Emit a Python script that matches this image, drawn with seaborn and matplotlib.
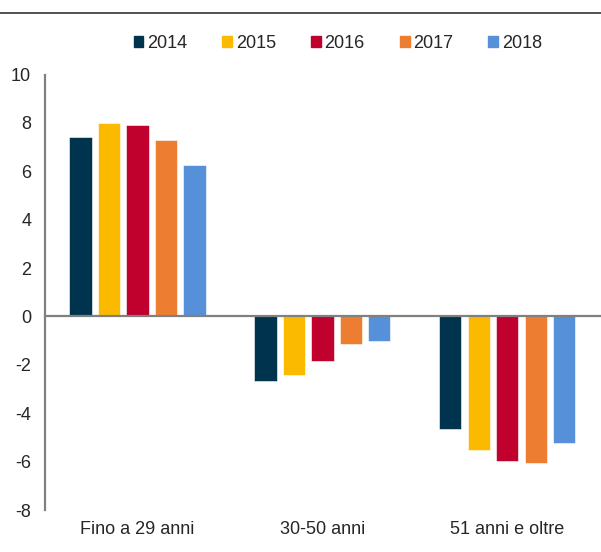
import pandas as pd
import seaborn as sns
import matplotlib.pyplot as plt
from matplotlib.lines import Line2D

# data
categories = ['Fino a 29 anni', '30-50 anni', '51 anni e oltre']
years = ['2014', '2015', '2016', '2017', '2018']
v2014 = [7.4, -2.65, -4.65]
v2015 = [8.0, -2.4, -5.5]
v2016 = [7.9, -1.85, -5.97]
v2017 = [7.28, -1.15, -6.05]
v2018 = [6.28, -1.0, -5.22]
colors = ['#00334E', '#FBBA00', '#C0002D', '#ED7D31', '#5590D8']

rows = []
for year, vals in zip(years, [v2014, v2015, v2016, v2017, v2018]):
    for cat, v in zip(categories, vals):
        rows.append({'Categoria': cat, 'Anno': year, 'Valore': v})
df = pd.DataFrame(rows)

sns.set_style('white')
plt.rcParams['font.family'] = ['Liberation Sans', 'DejaVu Sans']
plt.rcParams['axes.unicode_minus'] = False

fig = plt.figure(figsize=(6.01, 5.52), dpi=100)
ax = fig.add_axes([0.075, 0.076, 0.923, 0.789])

sns.barplot(data=df, x='Categoria', y='Valore', hue='Anno', order=categories,
            hue_order=years, palette=colors, saturation=1, width=0.77, gap=0.22,
            edgecolor='white', linewidth=0.4, ax=ax)

ax.set_xlim(-0.5, 2.5)
ax.set_ylim(-8, 10)
ax.set_yticks(range(-8, 11, 2))
ax.set_xlabel('')
ax.set_ylabel('')

gray = '#808080'
for s in ['top', 'right']:
    ax.spines[s].set_visible(False)
ax.spines['left'].set_color(gray)
ax.spines['left'].set_linewidth(1.6)
ax.spines['bottom'].set_position(('data', 0))
ax.spines['bottom'].set_color(gray)
ax.spines['bottom'].set_linewidth(1.6)

ax.tick_params(axis='y', length=4, width=1.2, color=gray, labelsize=13, pad=6)
# category boundaries as ticks on the zero line, labels at the bottom
ax.set_xticks([0.5, 1.5, 2.5])
ax.set_xticklabels([])
ax.tick_params(axis='x', length=4, width=1.2, color=gray, direction='out')

sec = ax.secondary_xaxis(0)
sec.set_xticks(range(len(categories)))
sec.set_xticklabels(categories, fontsize=13)
sec.tick_params(length=0, pad=8)
sec.spines['bottom'].set_visible(False)

ax.get_legend().remove()
handles = [plt.Rectangle((0, 0), 1, 1, color=c) for c in colors]
fig.legend(handles, years, loc='center', bbox_to_anchor=(0.562, 0.921), ncol=5,
           frameon=False, fontsize=13, handlelength=0.55, handleheight=0.55,
           handletextpad=0.2, columnspacing=1.94)

# thin rule at the top of the figure
fig.add_artist(Line2D([0, 1], [0.976, 0.976], transform=fig.transFigure,
                      color='#333333', linewidth=1.2))

fig.savefig('out.png', dpi=100)
